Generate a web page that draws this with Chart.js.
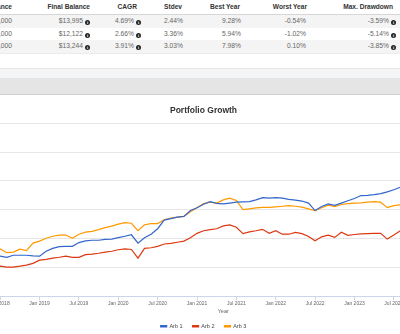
<!DOCTYPE html>
<html>
<head>
<meta charset="utf-8">
<script src="https://cdn.jsdelivr.net/npm/chart.js@4.4.0/dist/chart.umd.min.js"></script>
<style>
html, body { margin: 0; padding: 0; width: 400px; height: 334px; overflow: hidden; background: #fff; }
body { position: relative; font-family: "Liberation Sans", Arial, sans-serif; }
.row { position: absolute; left: 0; width: 400px; }
.cell { position: absolute; top: 0; white-space: nowrap; }
.head .cell { color: #333; font-weight: bold; font-size: 6.6px; }
.data .cell { color: #666; font-size: 6.7px; }
.info { display: inline-block; width: 5px; height: 5px; margin-left: 2px; border-radius: 50%; background: #222; color: #fff;
        font: bold 4px/5px "Liberation Serif", serif; text-align: center; vertical-align: -1px; font-style: normal; }
#band1 { position: absolute; left: 0; top: 68px; width: 400px; height: 9px; background: #f4f5f7; border-top: 1px solid #e6e6e6; }
#band2 { position: absolute; left: 0; top: 78px; width: 400px; height: 16px; background: #e5e5e5; border-bottom: 1px solid #cdcdcd; }
#chartBox { position: absolute; top: 96px; left: -125px; width: 660px; height: 243px; }
</style>
</head>
<body>
<div id="table"></div>
<div id="band1"></div>
<div id="band2"></div>
<div id="chartBox"><canvas id="growthChart" width="660" height="243"></canvas></div>
<script>
// summary table
const headers = ["Start Balance", "Final Balance", "CAGR", "Stdev", "Best Year", "Worst Year", "Max. Drawdown"];
const rows = [
    ["$10,000", "$13,995", "4.69%", "2.44%", "9.28%", "-0.54%", "-3.59%"],
    ["$10,000", "$12,122", "2.66%", "3.36%", "5.94%", "-1.02%", "-5.14%"],
    ["$10,000", "$13,244", "3.91%", "3.03%", "7.98%", "0.10%", "-3.85%"]
];
const infoCols = [1, 2, 6];

// monthly balances, first value = Jun 2018
const arb1 = [10400, 10390, 10350, 10420, 10420, 10420, 10400, 10390, 10560, 10660,
    10720, 10730, 10730, 10860, 10920, 10940, 10940, 10970, 10980, 11030,
    11080, 11130, 10840, 11030, 11150, 11340, 11640, 11690, 11740, 11770,
    11970, 12070, 12190, 12280, 12220, 12200, 12230, 12260, 12270, 12280,
    12340, 12420, 12400, 12420, 12400, 12360, 12330, 12300, 12230, 11970,
    12110, 12200, 12150, 12230, 12310, 12390, 12490, 12500, 12520, 12560,
    12620, 12690, 12780, 12870];
const arb2 = [10030, 10040, 10010, 10010, 10040, 10080, 10140, 10250, 10280, 10320,
    10350, 10390, 10350, 10350, 10440, 10460, 10490, 10530, 10560, 10610,
    10640, 10620, 10320, 10660, 10680, 10730, 10810, 10830, 10870, 10910,
    11030, 11180, 11270, 11310, 11340, 11440, 11470, 11390, 11170, 11230,
    11270, 11320, 11180, 11270, 11150, 11150, 11210, 11170, 11070, 10920,
    11060, 11120, 11040, 11220, 11110, 11140, 11160, 11170, 11180, 11180,
    10980, 11120, 11270, 11350];
const arb3 = [10600, 10640, 10510, 10530, 10630, 10580, 10840, 10910, 11010, 11080,
    11120, 11120, 11010, 11150, 11220, 11250, 11310, 11380, 11430, 11500,
    11550, 11530, 11270, 11480, 11520, 11520, 11650, 11710, 11740, 11770,
    11930, 12070, 12210, 12260, 12230, 12340, 12400, 12320, 12000, 12030,
    12060, 12080, 12080, 12100, 12120, 12140, 12120, 12090, 12030, 11970,
    12070, 12160, 12110, 12180, 12210, 12230, 12240, 12260, 12280, 12260,
    12070, 12140, 12170, 12200];

const seriesNames = ["Arb 1", "Arb 2", "Arb 3"];
const seriesColors = ["#3366cc", "#dc3912", "#ff9900"];
const tickLabels = ["Jul 2017", "Jan 2018", "Jul 2018", "Jan 2019", "Jul 2019", "Jan 2020", "Jul 2020", "Jan 2021",
    "Jul 2021", "Jan 2022", "Jul 2022", "Jan 2023", "Jul 2023", "Jan 2024", "Jul 2024", "Jan 2025"];
const firstTick = -11;   // Jul 2017, in months from Jun 2018
const xMin = -11, xMax = 81;

const headEdges = [12, 90, 137, 182, 240, 307, 393];
const dataEdges = [12, 90, 141, 183, 241, 306, 396];

function buildTable() {
    const table = document.getElementById("table");
    let html = `<div class="row head" style="top:0;height:14px;border-bottom:1px solid #d6d6d6;line-height:14px">`;
    headers.forEach((h, i) => {
        html += `<span class="cell" style="right:${400 - headEdges[i]}px">${h}</span>`;
    });
    html += "</div>";
    const tops = [15, 27.5, 40];
    rows.forEach((r, ri) => {
        const bg = ri % 2 === 0 ? "#f4f4f4" : "#fff";
        html += `<div class="row data" style="top:${tops[ri]}px;height:12.5px;line-height:12.5px;background:${bg};border-bottom:1px solid #ececec">`;
        r.forEach((v, i) => {
            const icon = infoCols.includes(i) ? `<i class="info">i</i>` : "";
            html += `<span class="cell" style="right:${400 - dataEdges[i]}px">${v}${icon}</span>`;
        });
        html += "</div>";
    });
    table.innerHTML = html;
}

buildTable();

const datasets = [arb1, arb2, arb3].map((values, i) => ({
    label: seriesNames[i],
    data: values.map((v, k) => ({ x: k, y: v })),
    borderColor: seriesColors[i],
    backgroundColor: seriesColors[i],
    borderWidth: 1.2,
    pointRadius: 0,
    tension: 0
}));

const font = "'Liberation Sans', Arial, sans-serif";

new Chart(document.getElementById("growthChart"), {
    type: "line",
    data: { datasets: datasets },
    options: {
        responsive: false,
        animation: false,
        devicePixelRatio: 1,
        layout: { padding: { left: 7, right: 10, top: 0, bottom: 0 } },
        plugins: {
            title: {
                display: true,
                text: "Portfolio Growth",
                color: "#333",
                font: { family: font, size: 8.5, weight: "bold" },
                padding: { top: 10, bottom: 7 }
            },
            legend: {
                position: "bottom",
                labels: {
                    boxWidth: 6,
                    boxHeight: 1.5,
                    color: "#444",
                    padding: 10,
                    font: { family: font, size: 5.5 }
                }
            },
            tooltip: { enabled: false }
        },
        scales: {
            x: {
                type: "linear",
                min: xMin,
                max: xMax,
                afterBuildTicks: axis => {
                    axis.ticks = tickLabels.map((t, i) => ({ value: firstTick + 6 * i }));
                },
                ticks: {
                    autoSkip: false,
                    maxRotation: 0,
                    padding: 0,
                    color: "#666",
                    font: { family: font, size: 5 },
                    callback: (value, index) => tickLabels[index]
                },
                grid: { drawOnChartArea: false, tickLength: 4, color: "#ccd6eb" },
                border: { color: "#ccd6eb" },
                title: {
                    display: true,
                    text: "Year",
                    color: "#666",
                    padding: { top: 1.7, bottom: -1 },
                    font: { family: font, size: 5.5 }
                }
            },
            y: {
                min: 9000,
                max: 15000,
                afterFit: axis => { axis.width = 39.5; },
                ticks: {
                    stepSize: 1000,
                    color: "#666",
                    font: { family: font, size: 5 },
                    callback: v => "$" + v.toLocaleString("en-US")
                },
                grid: { color: "#e6e6e6", drawTicks: false },
                border: { display: false }
            }
        }
    }
});
</script>
</body>
</html>
